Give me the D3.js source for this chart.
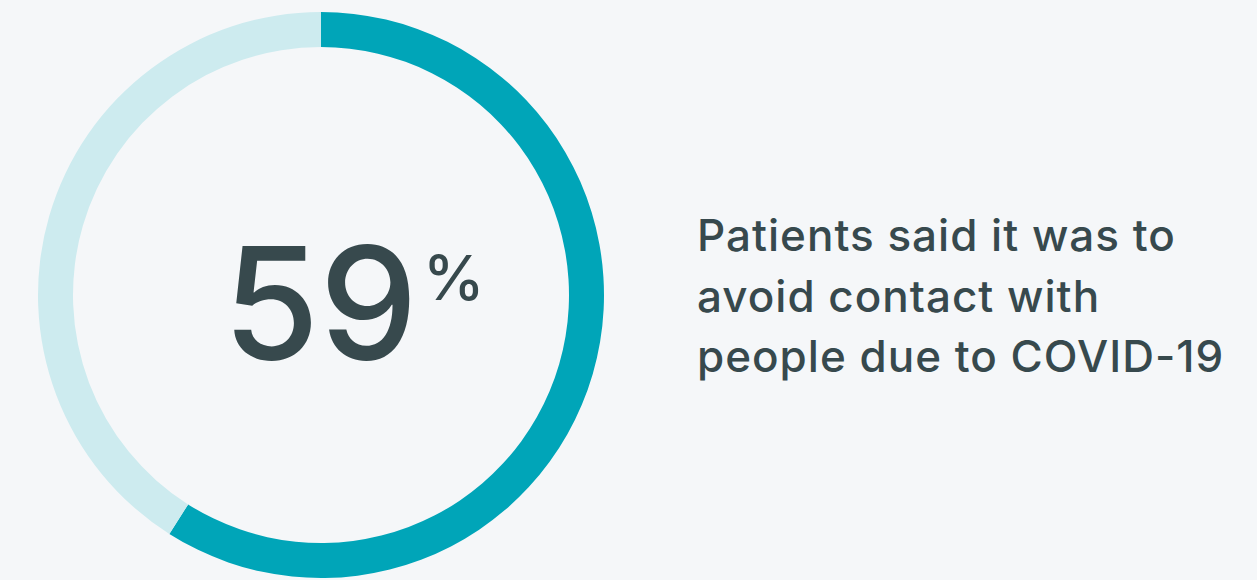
<!DOCTYPE html>
<html>
<head>
<meta charset="utf-8">
<script src="https://cdn.jsdelivr.net/npm/d3@7"></script>
<style>
  html, body { margin: 0; padding: 0; background: #f5f7f9; }
  svg { display: block; font-family: Inter, "Open Sans", sans-serif; }
</style>
</head>
<body>
<svg width="1257" height="580"></svg>
<script>
// share of patients (percent)
var share = 59;
var labelLines = ["Patients said it was to", "avoid contact with", "people due to COVID-19"];
var segments = [
  {name: "yes", value: share, color: "#00a5b8"},
  {name: "rest", value: 100 - share, color: "#cdebef"}
];

var svg = d3.select("svg"),
    cx = 321, cy = 295,
    outer = 283, inner = 248,
    textColor = "#37494d";

var pie = d3.pie()
    .sort(null)
    .value(function(d) { return d.value; });

var arc = d3.arc()
    .innerRadius(inner)
    .outerRadius(outer);

var g = svg.append("g").attr("transform", "translate(" + cx + "," + cy + ")");

g.selectAll("path")
  .data(pie(segments))
  .enter().append("path")
    .attr("d", arc)
    .style("fill", function(d) { return d.data.color; });

// big number
g.append("text")
    .attr("x", -98)
    .attr("y", 64)
    .style("font-size", "156px")
    .style("font-weight", 500)
    .style("fill", textColor)
    .text(share);

g.append("text")
    .attr("x", 102)
    .attr("y", 5)
    .style("font-size", "62px")
    .style("font-weight", 500)
    .style("fill", textColor)
    .text("%");

// label on the right
svg.append("text")
    .attr("x", 697)
    .attr("y", 251)
    .style("font-size", "44px")
    .style("font-weight", 500)
    .style("letter-spacing", "1px")
    .style("fill", textColor)
  .selectAll("tspan")
  .data(labelLines)
  .enter().append("tspan")
    .attr("x", 697)
    .attr("dy", function(d, i) { return i ? 60.5 : 0; })
    .text(function(d) { return d; });
</script>
</body>
</html>
